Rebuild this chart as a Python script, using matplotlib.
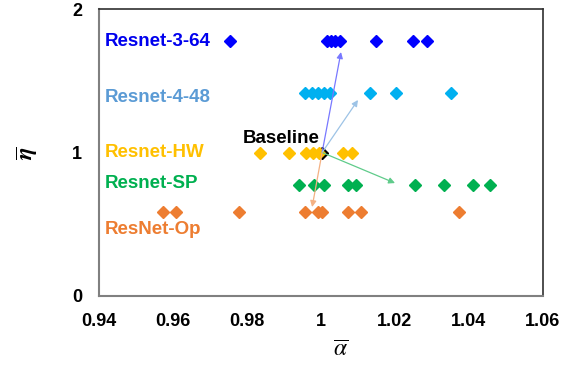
import matplotlib
matplotlib.use("Agg")
import matplotlib.pyplot as plt

plt.rcParams['font.family'] = ['Liberation Sans', 'DejaVu Sans']
plt.rcParams['mathtext.fontset'] = 'stix'

# data
r364_x = [0.9754, 1.0016, 1.0027, 1.0038, 1.0051, 1.0149, 1.0249, 1.0286]
r364_y = 1.777
r448_x = [0.9957, 0.9976, 0.9992, 1.0008, 1.0024, 1.0132, 1.0203, 1.0351]
r448_y = 1.415
hw_x = [0.9835, 0.9914, 0.9959, 0.9978, 0.9995, 1.0059, 1.0084]
hw_y = 1.0
sp_x = [0.9941, 0.9981, 1.0008, 1.0073, 1.0095, 1.0254, 1.0332, 1.0411, 1.0457]
sp_y = 0.773
op_x = [0.9573, 0.9608, 0.9778, 0.9957, 0.9992, 1.0003, 1.0073, 1.0108, 1.0373]
op_y = 0.585
baseline = (1.0003, 1.0)
arrow_ends = [(1.0054, 1.70), (1.0100, 1.366), (1.0200, 0.787), (0.9976, 0.62)]
arrow_colors = ['#7878FF', '#9DC3E6', '#5FCB8A', '#F4B183']

series = [
    ('Resnet-3-64', r364_x, r364_y, '#0000FF', '#0000EE', 1.777),
    ('Resnet-4-48', r448_x, r448_y, '#00B0F0', '#5B9BD5', 1.38),
    ('Resnet-HW', hw_x, hw_y, '#FFC000', '#FFC000', 0.997),
    ('Resnet-SP', sp_x, sp_y, '#00B050', '#00B050', 0.787),
    ('ResNet-Op', op_x, op_y, '#ED7D31', '#ED7D31', 0.46),
]

fig = plt.figure(figsize=(5.71, 3.67), dpi=100)
ax = fig.add_axes([99/571, 1-296/367, 444/571, 287/367])

ax.plot([baseline[0]], [baseline[1]], marker='D', color='black', markersize=6.5, zorder=2, linestyle='none')

for name, xs, y, mc, tc, ly in series:
    ax.plot(xs, [y]*len(xs), marker='D', color=mc, markersize=6.5, linestyle='none', zorder=3)
    ax.text(0.9416, ly, name, color=tc, fontsize=13.5, fontweight='bold', va='center', ha='left')

for (ex, ey), c in zip(arrow_ends, arrow_colors):
    ax.annotate('', xy=(ex, ey), xytext=baseline,
                arrowprops=dict(arrowstyle='-|>', color=c, lw=0.9, mutation_scale=9, shrinkA=0, shrinkB=0), zorder=4)

ax.text(0.9995, 1.10, 'Baseline', color='black', fontsize=13.5, fontweight='bold', ha='right', va='center')

ax.set_xlim(0.94, 1.06)
ax.set_ylim(0, 2)
ax.set_xticks([0.94, 0.96, 0.98, 1.0, 1.02, 1.04, 1.06])
ax.set_xticklabels(['0.94', '0.96', '0.98', '1', '1.02', '1.04', '1.06'])
ax.set_yticks([0, 1, 2])
ax.set_yticklabels(['0', '1', '2'])
ax.tick_params(length=0, labelsize=13, pad=12)
for lab in ax.get_xticklabels() + ax.get_yticklabels():
    lab.set_fontweight('bold')

for s in ['left', 'bottom']:
    ax.spines[s].set_color('#808080')
    ax.spines[s].set_linewidth(1.5)
for s in ['top', 'right']:
    ax.spines[s].set_color('#303030')
    ax.spines[s].set_linewidth(1.2)

fig.text(341/571, 1-350/367, r'$\overline{\alpha}$', fontsize=17, ha='center', va='center')
fig.text(27/571, 1-153/367, r'$\overline{\boldsymbol{\eta}}$', fontsize=17, ha='center', va='center', rotation=90)

fig.savefig('out.png', dpi=100)
